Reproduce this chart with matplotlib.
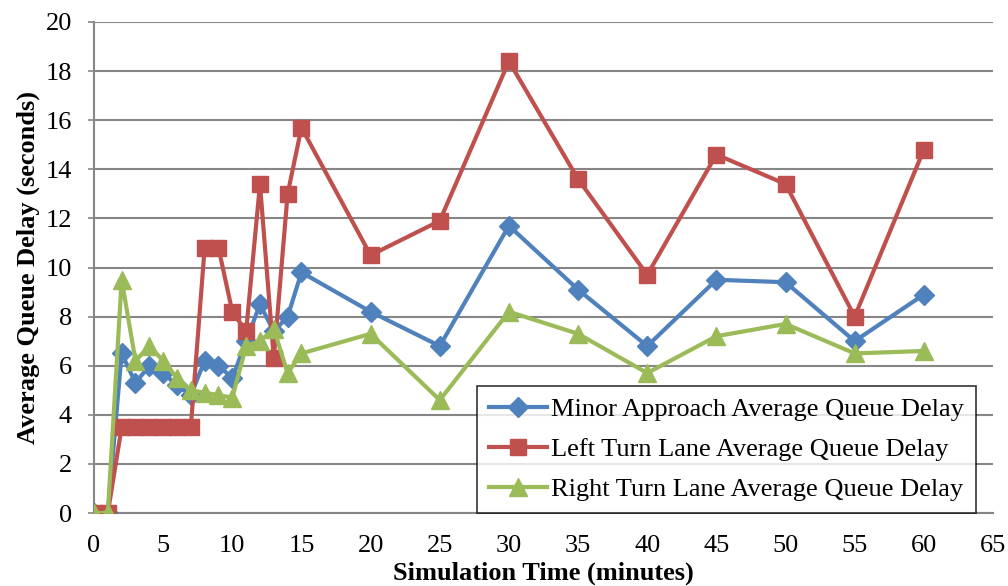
import matplotlib
matplotlib.use("Agg")
import matplotlib.pyplot as plt

plt.rcParams['font.family'] = ['Liberation Serif', 'DejaVu Serif']

minutes = [0, 1, 2, 3, 4, 5, 6, 7, 8, 9, 10, 11, 12, 13, 14, 15,
           20, 25, 30, 35, 40, 45, 50, 55, 60]
minor_approach = [0, 0, 6.5, 5.3, 6.0, 5.7, 5.2, 4.8, 6.2, 6.0, 5.5, 7.0, 8.5, 7.4, 8.0, 9.8,
                  8.2, 6.8, 11.7, 9.1, 6.8, 9.5, 9.4, 7.0, 8.9]
left_turn = [0, 0, 3.5, 3.5, 3.5, 3.5, 3.5, 3.5, 10.8, 10.8, 8.2, 7.4, 13.4, 6.3, 13.0, 15.7,
             10.5, 11.9, 18.4, 13.6, 9.7, 14.6, 13.4, 8.0, 14.8]
right_turn = [0, 0, 9.5, 6.2, 6.8, 6.2, 5.5, 5.0, 4.9, 4.8, 4.7, 6.8, 7.0, 7.5, 5.7, 6.5,
              7.3, 4.6, 8.2, 7.3, 5.7, 7.2, 7.7, 6.5, 6.6]

series_labels = ["Minor Approach Average Queue Delay",
                 "Left Turn Lane Average Queue Delay",
                 "Right Turn Lane Average Queue Delay"]
x_ticks = list(range(0, 66, 5))
y_ticks = list(range(0, 21, 2))

fig = plt.figure(figsize=(10.08, 5.86), dpi=100)
ax = fig.add_axes([94 / 1008, 1 - 513 / 586, (993 - 94) / 1008, (513 - 22) / 586])

ax.plot(minutes, minor_approach, color='#4F81BD', lw=3, marker='D', ms=10,
        label=series_labels[0], zorder=3)
ax.plot(minutes, left_turn, color='#C0504D', lw=3, marker='s', ms=12,
        label=series_labels[1], zorder=3)
ax.plot(minutes, right_turn, color='#9BBB59', lw=3, marker='^', ms=13,
        label=series_labels[2], zorder=4)

ax.set_xlim(0, 65)
ax.set_ylim(0, 20)
ax.set_xticks(x_ticks)
ax.set_yticks(y_ticks)
ax.tick_params(axis='both', labelsize=19, colors='#868686', labelcolor='black')
ax.tick_params(axis='x', length=0, pad=16)
ax.tick_params(axis='y', length=4, width=1.2, pad=12)
ax.grid(axis='y', color='#868686', lw=1.5, zorder=0)
ax.set_axisbelow(True)
for side in ('top', 'right'):
    ax.spines[side].set_visible(False)
for side in ('left', 'bottom'):
    ax.spines[side].set_color('#868686')
    ax.spines[side].set_linewidth(1.5)

ax.set_xlabel("Simulation Time (minutes)", fontsize=19, fontweight='bold', labelpad=3)
ax.set_ylabel("Average Queue Delay (seconds)", fontsize=19, fontweight='bold', labelpad=4)

leg = ax.legend(loc='lower left', bbox_to_anchor=(0.426, 0.0), fontsize=19,
                frameon=True, fancybox=False, borderaxespad=0, handlelength=2.2,
                handletextpad=0.15, borderpad=0.45, labelspacing=0.62)
leg.get_frame().set_edgecolor('black')
leg.get_frame().set_linewidth(1.2)
leg.set_zorder(5)

fig.savefig("out.png", dpi=100)
